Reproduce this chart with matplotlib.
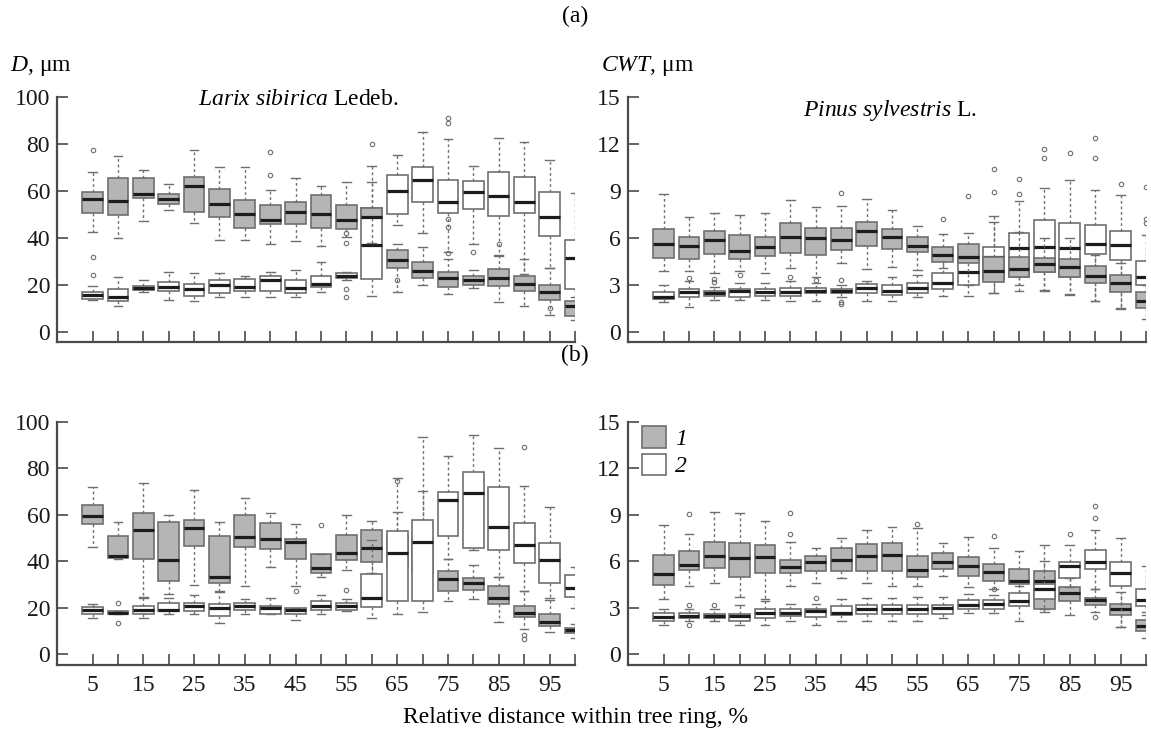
import matplotlib
matplotlib.use("Agg")
import matplotlib.pyplot as plt
from matplotlib.patches import Patch

# positions within the ring, %
POSITIONS = list(range(5, 101, 5))
XTICK_LABELS = [str(p) if p % 10 == 5 else "" for p in POSITIONS]

# each box: (whisker low, q1, median, q3, whisker high)
# (a) Larix sibirica, D
LARIX_A_1 = [
    (42.4, 50.4, 56.6, 59.7, 68.0), (40.0, 49.7, 55.7, 65.4, 74.7),
    (47.1, 57.0, 58.7, 65.4, 69.0), (51.9, 54.4, 56.4, 58.7, 63.0),
    (46.4, 51.1, 62.3, 65.9, 77.3), (39.0, 49.0, 54.3, 60.9, 70.3),
    (39.0, 44.4, 50.0, 56.0, 70.3), (37.4, 46.1, 47.6, 54.1, 60.4),
    (38.7, 45.9, 51.0, 55.4, 65.4), (36.6, 44.3, 50.0, 58.3, 62.1),
    (40.4, 43.9, 47.6, 54.0, 63.7), (38.0, 48.5, 49.0, 52.6, 64.0),
    (17.1, 27.1, 30.7, 35.0, 37.4), (20.0, 23.0, 26.1, 29.7, 36.0),
    (16.1, 19.3, 22.9, 25.7, 31.1), (18.6, 20.0, 22.1, 24.0, 26.4),
    (12.9, 19.4, 23.0, 26.9, 32.6), (10.9, 17.6, 20.4, 23.6, 31.1),
    (7.1, 13.7, 17.1, 20.0, 27.1), (5.0, 6.6, 10.9, 13.0, 14.7),
]
LARIX_A_2 = [
    (13.6, 14.0, 15.9, 16.9, 19.7), (11.1, 13.3, 15.0, 18.3, 23.3),
    (16.9, 17.9, 18.9, 19.7, 22.1), (13.7, 17.6, 19.0, 21.1, 25.4),
    (13.3, 15.4, 18.3, 20.4, 25.0), (15.0, 16.6, 20.0, 22.1, 25.0),
    (15.0, 17.6, 19.0, 22.6, 24.0), (15.0, 17.6, 22.1, 23.6, 25.7),
    (15.0, 16.6, 18.9, 21.9, 26.4), (16.9, 19.0, 20.4, 24.0, 29.7),
    (22.1, 23.0, 24.0, 25.1, 25.4), (15.4, 22.6, 37.1, 52.6, 70.4),
    (45.7, 50.0, 60.0, 66.6, 75.4), (42.3, 55.4, 64.7, 70.1, 85.1),
    (34.0, 50.4, 55.4, 64.7, 81.9), (37.6, 52.4, 59.7, 64.3, 70.4),
    (32.1, 49.3, 57.9, 68.0, 82.3), (24.7, 50.7, 55.4, 66.1, 80.9),
    (27.1, 40.9, 49.0, 59.7, 73.0), (12.0, 18.3, 31.6, 39.0, 59.0),
]
LARIX_A_1_OUT = {5: [77.6], 40: [76.6, 66.7], 55: [42.1, 37.9], 65: [21.9],
                 75: [33.7], 95: [10.1]}
LARIX_A_2_OUT = {5: [24.1, 31.9], 55: [18.3, 14.7], 60: [80.0],
                 75: [88.7, 90.9, 47.9, 44.7], 80: [34.0], 85: [37.6]}

# (a) Pinus sylvestris, CWT
PINUS_A_1 = [
    (3.86, 4.71, 5.64, 6.58, 8.79), (3.90, 4.67, 5.46, 6.06, 7.33),
    (3.75, 4.99, 5.89, 6.47, 7.56), (3.90, 4.67, 5.14, 6.21, 7.46),
    (3.75, 4.86, 5.42, 6.06, 7.56), (4.05, 5.04, 6.06, 6.96, 8.40),
    (3.49, 4.89, 5.96, 6.64, 7.97), (4.39, 5.25, 5.85, 6.64, 8.03),
    (4.03, 5.51, 6.47, 7.03, 8.50), (4.15, 5.29, 6.06, 6.58, 7.78),
    (3.97, 5.08, 5.51, 6.04, 6.73), (4.07, 4.46, 4.93, 5.42, 6.26),
    (3.00, 4.40, 4.80, 5.60, 6.30), (2.50, 3.20, 3.90, 4.80, 7.00),
    (3.00, 3.53, 4.03, 4.81, 6.40), (2.60, 3.79, 4.34, 4.70, 6.00),
    (2.40, 3.53, 4.17, 4.64, 6.00), (2.00, 3.11, 3.57, 4.22, 4.90),
    (1.50, 2.57, 3.11, 3.60, 4.40), (0.83, 1.53, 1.96, 2.53, 3.00),
]
PINUS_A_2 = [
    (1.89, 2.10, 2.25, 2.53, 3.00), (1.56, 2.25, 2.53, 2.74, 3.24),
    (2.04, 2.31, 2.49, 2.64, 2.89), (2.04, 2.25, 2.60, 2.74, 3.10),
    (2.04, 2.27, 2.53, 2.74, 3.10), (2.00, 2.30, 2.55, 2.80, 3.25),
    (2.00, 2.45, 2.60, 2.80, 3.10), (2.20, 2.45, 2.60, 2.75, 3.00),
    (2.00, 2.50, 2.80, 3.05, 3.25), (2.00, 2.35, 2.60, 3.00, 3.50),
    (2.25, 2.50, 2.80, 3.15, 3.60), (2.30, 2.75, 3.10, 3.75, 4.90),
    (2.30, 3.00, 3.80, 4.80, 5.50), (2.50, 3.40, 4.80, 5.40, 7.40),
    (2.64, 3.53, 5.33, 6.34, 8.36), (2.66, 3.79, 5.44, 7.11, 9.21),
    (2.34, 3.53, 5.33, 6.94, 9.72), (1.98, 4.98, 5.58, 6.83, 9.08),
    (1.49, 4.58, 5.54, 6.47, 8.76), (2.50, 3.02, 3.53, 4.51, 6.17),
]
PINUS_A_1_OUT = {20: [3.6], 40: [8.85], 60: [7.18], 65: [8.7]}
PINUS_A_2_OUT = {10: [3.43], 15: [3.17, 3.39], 30: [3.5], 35: [3.3],
                 40: [3.3, 1.9, 1.75], 70: [8.9, 10.4], 75: [8.8, 9.75],
                 80: [11.1, 11.7], 85: [11.4], 90: [11.1, 12.4], 95: [9.46],
                 100: [6.98, 7.23, 9.25]}

# (b) Larix sibirica, D
LARIX_B_1 = [
    (46.0, 56.0, 59.6, 64.1, 72.0), (41.0, 41.4, 42.1, 50.7, 57.1),
    (24.3, 40.9, 53.4, 60.6, 73.6), (26.0, 31.6, 40.6, 56.9, 60.1),
    (29.6, 46.7, 54.1, 57.9, 70.6), (27.0, 30.4, 33.1, 50.7, 57.1),
    (29.4, 46.0, 50.4, 59.7, 67.1), (37.4, 45.4, 49.6, 56.4, 60.9),
    (29.3, 41.0, 48.4, 49.6, 56.0), (33.0, 35.0, 37.1, 43.1, 43.1),
    (36.3, 40.4, 43.3, 51.4, 60.1), (35.0, 39.6, 45.6, 53.6, 57.3),
    (30.0, 38.0, 45.0, 51.0, 61.0), (28.0, 35.0, 40.0, 50.0, 70.3),
    (22.7, 27.1, 32.4, 35.6, 41.0), (23.6, 27.7, 30.7, 32.9, 38.4),
    (13.6, 21.7, 24.3, 29.1, 33.1), (10.7, 15.7, 17.7, 20.6, 27.1),
    (9.3, 12.0, 13.9, 17.3, 23.1), (7.0, 9.1, 10.3, 11.3, 13.1),
]
LARIX_B_2 = [
    (15.6, 17.0, 18.9, 20.3, 21.7), (17.0, 17.0, 17.7, 18.6, 18.6),
    (15.3, 17.4, 18.9, 20.6, 24.6), (17.1, 18.6, 18.9, 22.0, 23.9),
    (17.0, 18.6, 20.6, 22.1, 25.6), (13.4, 16.3, 19.6, 21.3, 26.7),
    (17.0, 19.1, 20.6, 22.1, 23.6), (17.0, 17.0, 19.9, 20.6, 23.9),
    (14.6, 17.0, 18.9, 19.6, 19.9), (17.0, 19.1, 20.6, 22.7, 25.3),
    (18.5, 19.1, 20.6, 22.0, 23.6), (15.3, 20.3, 23.9, 34.6, 49.1),
    (17.1, 22.9, 43.6, 52.9, 75.7), (17.9, 22.9, 48.1, 57.7, 93.6),
    (41.0, 50.7, 66.4, 70.0, 85.3), (44.6, 45.7, 69.3, 78.4, 94.3),
    (33.0, 44.6, 54.9, 72.0, 88.9), (27.1, 39.3, 47.1, 56.3, 72.4),
    (23.9, 30.7, 40.3, 47.9, 63.4), (19.6, 24.6, 28.6, 33.9, 37.4),
]
LARIX_B_1_OUT = {45: [27.1], 50: [55.6], 90: [8.1, 6.4]}
LARIX_B_2_OUT = {10: [13.4, 22.1], 55: [27.7], 65: [74.6], 90: [89.1]}

# (b) Pinus sylvestris, CWT
PINUS_B_1 = [
    (3.53, 4.47, 5.17, 6.41, 8.33), (4.42, 5.43, 5.75, 6.67, 7.78),
    (4.59, 5.53, 6.35, 7.24, 9.19), (3.68, 4.96, 6.18, 7.16, 9.12),
    (3.57, 5.24, 6.24, 7.05, 8.59), (4.42, 5.21, 5.64, 6.09, 7.26),
    (4.57, 5.34, 5.96, 6.35, 6.88), (4.89, 5.38, 6.07, 6.82, 7.52),
    (4.59, 5.34, 6.35, 7.09, 7.99), (4.38, 5.38, 6.39, 7.16, 8.21),
    (4.36, 5.00, 5.45, 6.35, 8.16), (5.06, 5.49, 5.96, 6.50, 7.16),
    (4.32, 5.06, 5.70, 6.28, 7.59), (4.17, 4.70, 5.32, 5.81, 6.82),
    (3.80, 4.53, 4.74, 5.49, 6.67), (2.70, 2.90, 4.70, 5.38, 7.05),
    (2.50, 3.42, 3.93, 4.32, 4.92), (2.70, 3.14, 3.46, 3.63, 4.20),
    (1.76, 2.54, 2.93, 3.25, 4.03), (1.00, 1.47, 1.80, 2.18, 2.50),
]
PINUS_B_2 = [
    (1.90, 2.14, 2.39, 2.65, 2.93), (2.14, 2.35, 2.46, 2.65, 2.93),
    (2.12, 2.35, 2.46, 2.61, 2.93), (1.90, 2.14, 2.44, 2.61, 3.14),
    (1.86, 2.35, 2.67, 2.93, 3.40), (2.14, 2.46, 2.65, 2.93, 3.21),
    (1.86, 2.39, 2.76, 2.93, 3.21), (2.12, 2.50, 2.65, 3.08, 3.57),
    (2.12, 2.61, 2.93, 3.14, 3.63), (2.12, 2.61, 2.90, 3.14, 3.63),
    (2.14, 2.61, 2.90, 3.14, 3.68), (2.35, 2.61, 2.97, 3.14, 3.68),
    (2.65, 2.93, 3.18, 3.46, 3.89), (2.65, 2.93, 3.21, 3.46, 3.80),
    (2.12, 3.10, 3.42, 3.93, 4.42), (2.90, 3.57, 4.17, 4.53, 6.00),
    (4.30, 4.92, 5.67, 5.96, 7.05), (4.20, 5.49, 5.96, 6.73, 7.99),
    (1.72, 4.42, 5.24, 5.96, 7.52), (2.70, 3.10, 3.46, 4.17, 5.70),
]
PINUS_B_1_OUT = {10: [9.08], 30: [7.74, 9.12], 55: [8.42], 70: [7.63],
                 90: [2.41]}
PINUS_B_2_OUT = {10: [1.86, 3.14], 15: [3.14], 35: [3.63], 70: [4.2],
                 85: [7.74], 90: [8.8, 9.55]}

GRAY = "#b5b5b5"
EDGE = "#6f6f6f"
SERIF = ["Liberation Serif", "DejaVu Serif"]

plt.rcParams["font.family"] = "serif"
plt.rcParams["font.serif"] = SERIF
plt.rcParams["mathtext.fontset"] = "custom"
plt.rcParams["mathtext.it"] = "Liberation Serif:italic"
plt.rcParams["mathtext.rm"] = "Liberation Serif"


def make_stats(boxes, outliers):
    stats = []
    for pos, (lo, q1, med, q3, hi) in zip(POSITIONS, boxes):
        stats.append(dict(whislo=lo, q1=q1, med=med, q3=q3, whishi=hi,
                          fliers=outliers.get(pos, [])))
    return stats


def draw_series(ax, boxes, outliers, face, z):
    ax.bxp(make_stats(boxes, outliers), positions=POSITIONS, widths=4.1,
           capwidths=1.7, patch_artist=True, manage_ticks=False, zorder=z,
           boxprops=dict(facecolor=face, edgecolor=EDGE, linewidth=1.2),
           medianprops=dict(color="#1c1c1c", linewidth=2.3),
           whiskerprops=dict(color=EDGE, linewidth=1.0, linestyle=(0, (2, 2))),
           capprops=dict(color=EDGE, linewidth=1.0),
           flierprops=dict(marker="o", markersize=3.2, markerfacecolor="none",
                           markeredgecolor=EDGE, markeredgewidth=0.8))


def style_axis(ax, ymin, ymax, yticks, show_xlabels):
    ax.set_xlim(-2, 100)
    ax.set_ylim(ymin, ymax)
    ax.set_xticks(POSITIONS)
    ax.set_xticklabels(XTICK_LABELS if show_xlabels else [""] * len(POSITIONS))
    ax.set_yticks(yticks)
    for side in ["top", "right"]:
        ax.spines[side].set_visible(False)
    for side in ["left", "bottom"]:
        ax.spines[side].set_color("#4a4a4a")
        ax.spines[side].set_linewidth(1.6)
    ax.tick_params(direction="in", length=8, width=1.2, color="#4a4a4a",
                   labelsize=17, labelcolor="#1a1a1a")
    ax.tick_params(axis="y", pad=5)
    ax.tick_params(axis="x", pad=7)


fig = plt.figure(figsize=(11.51, 7.34), dpi=100)

panels = [
    # rect, data1, out1, data2, out2, gray on top, ylim, yticks, x labels
    ([0.0495, 0.534, 0.450, 0.334], LARIX_A_1, LARIX_A_1_OUT, LARIX_A_2,
     LARIX_A_2_OUT, True, (-4.3, 100), range(0, 101, 20), False),
    ([0.5456, 0.534, 0.450, 0.334], PINUS_A_1, PINUS_A_1_OUT, PINUS_A_2,
     PINUS_A_2_OUT, True, (-0.65, 15), range(0, 16, 3), False),
    ([0.0495, 0.094, 0.450, 0.331], LARIX_B_1, LARIX_B_1_OUT, LARIX_B_2,
     LARIX_B_2_OUT, False, (-4.8, 100), range(0, 101, 20), True),
    ([0.5456, 0.094, 0.450, 0.331], PINUS_B_1, PINUS_B_1_OUT, PINUS_B_2,
     PINUS_B_2_OUT, False, (-0.72, 15), range(0, 16, 3), True),
]

axes = []
for rect, d1, o1, d2, o2, gray_top, ylim, yticks, xlab in panels:
    ax = fig.add_axes(rect)
    z1, z2 = (3, 2) if gray_top else (2, 3)
    draw_series(ax, d1, o1, GRAY, z1)
    draw_series(ax, d2, o2, "white", z2)
    style_axis(ax, ylim[0], ylim[1], yticks, xlab)
    axes.append(ax)

fig.text(0.4996, 0.977, "(a)", ha="center", va="center", fontsize=17)
fig.text(0.4996, 0.516, "(b)", ha="center", va="center", fontsize=17)
fig.text(0.009, 0.910, r"$\it{D}$, μm", ha="left", va="center", fontsize=17)
fig.text(0.522, 0.910, r"$\it{CWT}$, μm", ha="left", va="center", fontsize=17)
fig.text(0.259, 0.864, r"$\it{Larix\ sibirica}$ Ledeb.", ha="center",
         va="center", fontsize=17)
fig.text(0.773, 0.850, r"$\it{Pinus\ sylvestris}$ L.", ha="center",
         va="center", fontsize=17)
fig.text(0.4996, 0.023, "Relative distance within tree ring, %",
         ha="center", va="center", fontsize=17)

handles = [Patch(facecolor=GRAY, edgecolor=EDGE, linewidth=1.2),
           Patch(facecolor="white", edgecolor=EDGE, linewidth=1.2)]
axes[3].legend(handles, ["1", "2"], loc="upper left",
               bbox_to_anchor=(0.0, 1.04), frameon=False,
               prop=dict(family=SERIF, style="italic", size=17),
               handlelength=1.0, handleheight=1.0, handletextpad=0.4,
               labelspacing=0.15, borderaxespad=0.2)

fig.savefig("out.png", dpi=100)
